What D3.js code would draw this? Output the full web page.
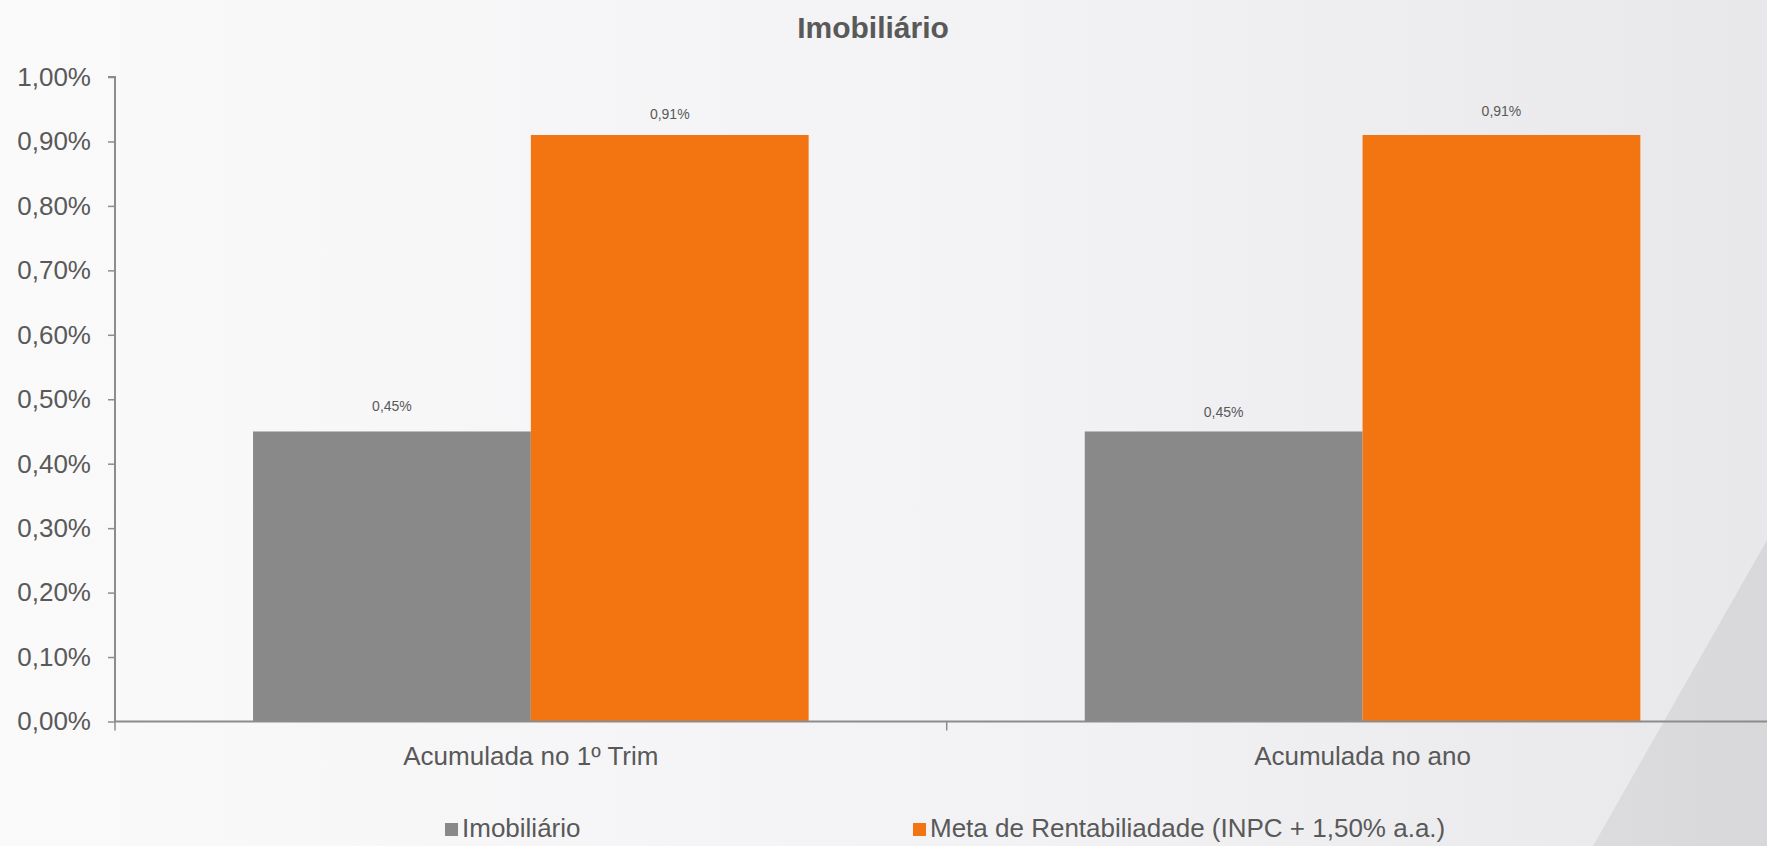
<!DOCTYPE html>
<html><head><meta charset="utf-8">
<script src="https://cdn.jsdelivr.net/npm/d3@7"></script>
<style>body{margin:0;overflow:hidden;}svg{display:block;font-family:Arial,"Liberation Sans",sans-serif;}</style>
</head><body>
<svg id="c" width="1767" height="846"></svg>
<script>
const title = "Imobiliário";
const categories = ["Acumulada no 1º Trim", "Acumulada no ano"];
const seriesNames = ["Imobiliário", "Meta de Rentabiliadade (INPC + 1,50% a.a.)"];
const imobiliario = [0.45, 0.45];
const meta = [0.91, 0.91];
const yTicks = [0, 0.1, 0.2, 0.3, 0.4, 0.5, 0.6, 0.7, 0.8, 0.9, 1.0];
const colors = ["#898989", "#f27511"];

const svg = d3.select("#c");
const W = 1767, H = 846;
const defs = svg.append("defs");
const g1 = defs.append("linearGradient").attr("id","bg").attr("x1","0").attr("x2","1").attr("y1","0").attr("y2","0");
g1.append("stop").attr("offset","0").attr("stop-color","#fafafb");
g1.append("stop").attr("offset","0.6").attr("stop-color","#f2f2f4");
g1.append("stop").attr("offset","1").attr("stop-color","#e8e8ea");
svg.append("rect").attr("width",W).attr("height",H).attr("fill","url(#bg)");
const g2 = defs.append("linearGradient").attr("id","sh").attr("x1","0").attr("x2","1").attr("y1","0").attr("y2","0");
g2.append("stop").attr("offset","0").attr("stop-color","#dcdcde");
g2.append("stop").attr("offset","1").attr("stop-color","#d8d8da");
svg.append("path").attr("d",`M${W},540 L${W},${H} L1593,${H} Z`).attr("fill","url(#sh)");

const x0 = 115, yBase = 721.5, yTop = 77;
const x = d3.scaleBand().domain(categories).range([x0, x0 + 2*831.7]).paddingInner(0).paddingOuter(0);
const xs = d3.scaleBand().domain([0,1]).range([0, x.bandwidth()]).paddingInner(0).paddingOuter(0.497);
const y = d3.scaleLinear().domain([0, 1]).range([yBase, yTop]);
const fmt = v => d3.format(".2f")(v).replace(".", ",") + "%";

// bars
const data = categories.map((c,i)=>({c, vals:[imobiliario[i], meta[i]]}));
const grp = svg.append("g").selectAll("g").data(data).join("g").attr("transform", d=>`translate(${x(d.c)},0)`);
grp.selectAll("rect").data(d=>d.vals.map((v,j)=>({v,j}))).join("rect")
  .attr("x", d=>xs(d.j)).attr("width", xs.bandwidth())
  .attr("y", d=>y(d.v)).attr("height", d=>yBase - y(d.v))
  .attr("fill", d=>colors[d.j]);

// value labels
const labelOffsets = [[20,14],[16,19]];
grp.each(function(d,i){
  d3.select(this).selectAll("text").data(d.vals.map((v,j)=>({v,j}))).join("text")
    .attr("x", e=>xs(e.j)+xs.bandwidth()/2)
    .attr("y", e=>y(e.v) - labelOffsets[e.j][i] )
    .attr("text-anchor","middle").attr("font-size",14).attr("fill","#595959")
    .text(e=>fmt(e.v));
});

// y axis
const yAxis = svg.append("g").attr("transform",`translate(${x0},0)`)
  .call(d3.axisLeft(y).tickValues(yTicks).tickSize(7).tickPadding(17).tickFormat(fmt));
yAxis.select(".domain").attr("stroke","#8c8c8c").attr("stroke-width",2).attr("d",`M-7,${yTop}H0V${yBase}`);
yAxis.selectAll(".tick line").attr("stroke","#8c8c8c").attr("stroke-width",1.5);
yAxis.selectAll(".tick text").attr("font-size",26).attr("fill","#595959").attr("font-family","Arial,'Liberation Sans',sans-serif");

// x axis
const xAxis = svg.append("g").attr("transform",`translate(0,${yBase})`);
xAxis.append("line").attr("x1",x0).attr("x2",W).attr("y1",0).attr("y2",0).attr("stroke","#8c8c8c").attr("stroke-width",2);
const tickXs = [x0, x0+x.bandwidth()];
xAxis.selectAll("line.t").data(tickXs).join("line").attr("class","t")
  .attr("x1",d=>d).attr("x2",d=>d).attr("y1",0).attr("y2",9).attr("stroke","#8c8c8c").attr("stroke-width",1.5);
xAxis.selectAll("text").data(categories).join("text")
  .attr("x", d=>x(d)+x.bandwidth()/2).attr("y", 43)
  .attr("text-anchor","middle").attr("font-size",26).attr("fill","#595959").text(d=>d);

// title
svg.append("text").attr("x",873).attr("y",38).attr("text-anchor","middle")
  .attr("font-size",30).attr("font-weight","bold").attr("fill","#595959").text(title);

// legend
const legX = [445, 913];
const leg = svg.append("g").selectAll("g").data(seriesNames).join("g")
  .attr("transform",(d,i)=>`translate(${legX[i]},823)`);
leg.append("rect").attr("width",13).attr("height",13).attr("fill",(d,i)=>colors[i]);
leg.append("text").attr("x",17).attr("y",14).attr("font-size",26).attr("fill","#595959").text(d=>d);
</script>
</body></html>
